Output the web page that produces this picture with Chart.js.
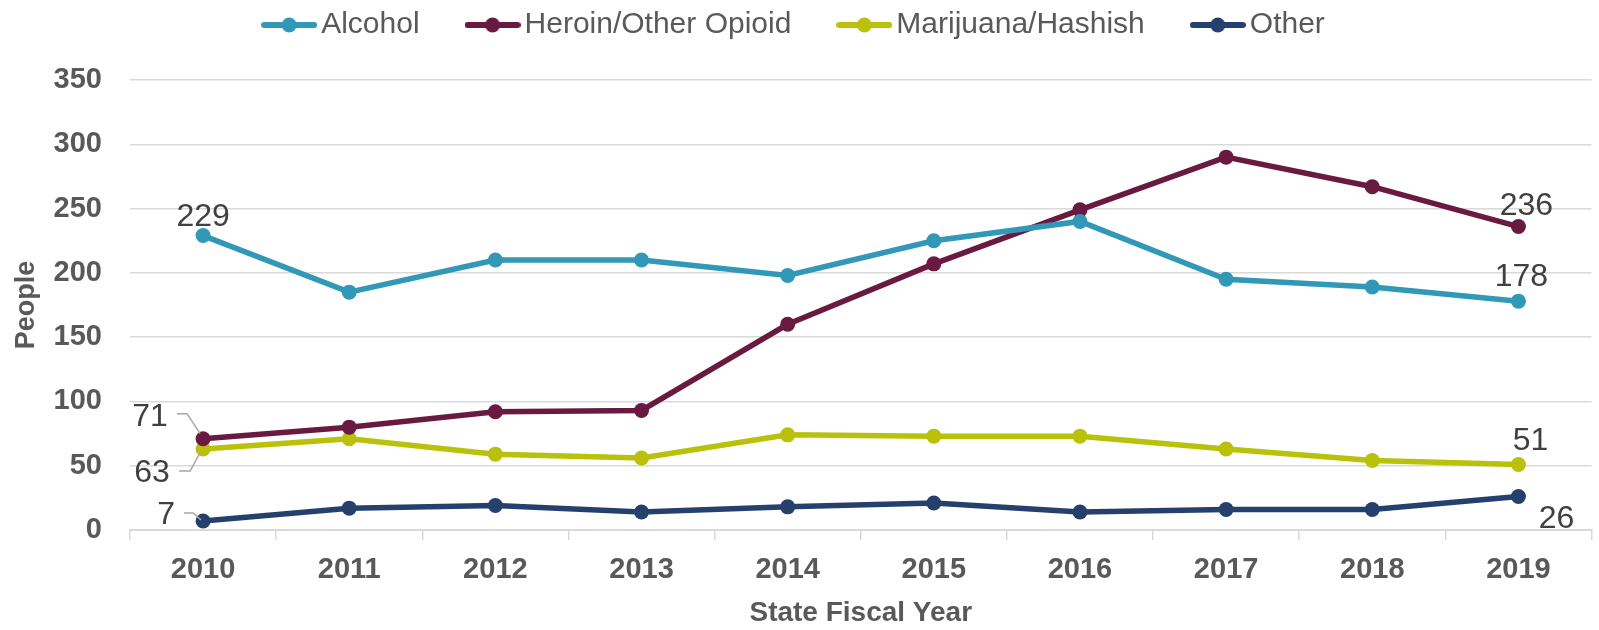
<!DOCTYPE html>
<html>
<head>
<meta charset="utf-8">
<script src="https://cdn.jsdelivr.net/npm/chart.js@4.4.1/dist/chart.umd.min.js"></script>
<style>
  html, body { margin: 0; padding: 0; background: #ffffff; }
  #wrap { width: 1599px; height: 630px; position: relative; }
</style>
</head>
<body>
<div id="wrap"><canvas id="c" width="1599" height="630"></canvas></div>
<script>
// ---- data ----
const years = ['2010', '2011', '2012', '2013', '2014', '2015', '2016', '2017', '2018', '2019'];
const alcohol   = [229, 185, 210, 210, 198, 225, 240, 195, 189, 178];
const heroin    = [71, 80, 92, 93, 160, 207, 249, 290, 267, 236];
const marijuana = [63, 71, 59, 56, 74, 73, 73, 63, 54, 51];
const other     = [7, 17, 19, 14, 18, 21, 14, 16, 16, 26];
const seriesNames = ['Alcohol', 'Heroin/Other Opioid', 'Marijuana/Hashish', 'Other'];
const yTicks = [0, 50, 100, 150, 200, 250, 300, 350];

// ---- styles ----
const colors = ['#3198B7', '#6A1A40', '#B9C10A', '#25406D'];
const FONT = "'Liberation Sans', Arial, sans-serif";
const AXIS_COLOR = '#595959';
const GRID_COLOR = '#d9d9d9';

// data labels: [datasetIndex, dataIndex, dx, dy, leader (relative to point) or null]
const labelSpecs = [
  [0, 0, 0, -18, null],
  [1, 9, 8, -20, null],
  [0, 9, 3, -24, null],
  [2, 9, 12, -23, null],
  [3, 9, 38, 23, null],
  [1, 0, -53, -22, [[-26, -25], [-16, -25], [-3, -5]]],
  [2, 0, -51, 24, [[-24, 22], [-13, 22], [-2, 2]]],
  [3, 0, -37, -6, [[-19, -8], [-10, -8], [-2, -1]]]
];

function legendIcon(color) {
  const c = document.createElement('canvas');
  c.width = 56; c.height = 16;
  const g = c.getContext('2d');
  g.strokeStyle = color; g.lineWidth = 6; g.lineCap = 'round';
  g.beginPath(); g.moveTo(3, 8); g.lineTo(53, 8); g.stroke();
  g.fillStyle = color;
  g.beginPath(); g.arc(28, 8, 7.5, 0, Math.PI * 2); g.fill();
  return c;
}
const icons = colors.map(legendIcon);

const allSeries = [alcohol, heroin, marijuana, other];
const datasets = allSeries.map((d, i) => ({
  label: seriesNames[i],
  data: d,
  borderColor: colors[i],
  backgroundColor: colors[i],
  pointBackgroundColor: colors[i],
  pointBorderWidth: 0,
  pointRadius: 7.5,
  pointHoverRadius: 7.5,
  borderWidth: 5.5,
  tension: 0,
  fill: false
}));

const legendSpacer = {
  id: 'legendSpacer',
  beforeInit(chart) {
    const orig = chart.legend.fit;
    chart.legend.fit = function () {
      orig.bind(chart.legend)();
      this.height += 30;
    };
  }
};

const dataLabels = {
  id: 'dataLabels',
  afterDatasetsDraw(chart) {
    const ctx = chart.ctx;
    ctx.save();
    labelSpecs.forEach(([di, i, dx, dy, leader]) => {
      const pt = chart.getDatasetMeta(di).data[i];
      const v = chart.data.datasets[di].data[i];
      if (leader) {
        ctx.strokeStyle = '#a6a6a6';
        ctx.lineWidth = 1.5;
        ctx.beginPath();
        leader.forEach(([lx, ly], k) => {
          if (k === 0) ctx.moveTo(pt.x + lx, pt.y + ly);
          else ctx.lineTo(pt.x + lx, pt.y + ly);
        });
        ctx.stroke();
      }
      ctx.fillStyle = '#404040';
      ctx.font = '32px ' + FONT;
      ctx.textAlign = 'center';
      ctx.textBaseline = 'middle';
      ctx.fillText(String(v), pt.x + dx, pt.y + dy);
    });
    ctx.restore();
  }
};

new Chart(document.getElementById('c'), {
  type: 'line',
  data: { labels: years, datasets },
  options: {
    responsive: false,
    animation: false,
    devicePixelRatio: 1,
    layout: { padding: { top: -46, left: 0, right: 2, bottom: 0 } },
    plugins: {
      tooltip: { enabled: false },
      legend: {
        position: 'top',
        align: 'center',
        labels: {
          usePointStyle: true,
          pointStyleWidth: 34,
          boxWidth: 34,
          padding: 56,
          color: AXIS_COLOR,
          font: { family: FONT, size: 30 },
          generateLabels(chart) {
            const items = Chart.defaults.plugins.legend.labels.generateLabels(chart);
            items.forEach((it, k) => { it.pointStyle = icons[k]; });
            return items;
          }
        }
      }
    },
    scales: {
      x: {
        offset: true,
        afterFit(scale) { scale.height = 100; },
        grid: {
          offset: true,
          drawOnChartArea: false,
          drawTicks: true,
          tickLength: 10,
          color: GRID_COLOR,
          lineWidth: 1.5
        },
        border: { display: true, color: GRID_COLOR, width: 2 },
        ticks: {
          color: AXIS_COLOR,
          padding: 13,
          font: { family: FONT, size: 29, weight: 'bold' }
        },
        title: {
          display: true,
          text: 'State Fiscal Year',
          color: AXIS_COLOR,
          padding: { top: 0, bottom: 0 },
          font: { family: FONT, size: 28, weight: 'bold' }
        }
      },
      y: {
        min: 0,
        max: 350,
        afterFit(scale) { scale.width = 130; },
        afterBuildTicks(scale) { scale.ticks = yTicks.map(v => ({ value: v })); },
        grid: { color: GRID_COLOR, lineWidth: 1.5, drawTicks: false },
        border: { display: false },
        ticks: {
          color: AXIS_COLOR,
          padding: 28,
          font: { family: FONT, size: 29, weight: 'bold' }
        },
        title: {
          display: true,
          text: 'People',
          color: AXIS_COLOR,
          padding: { top: 10, bottom: 0 },
          font: { family: FONT, size: 27, weight: 'bold' }
        }
      }
    }
  },
  plugins: [legendSpacer, dataLabels]
});
</script>
</body>
</html>
